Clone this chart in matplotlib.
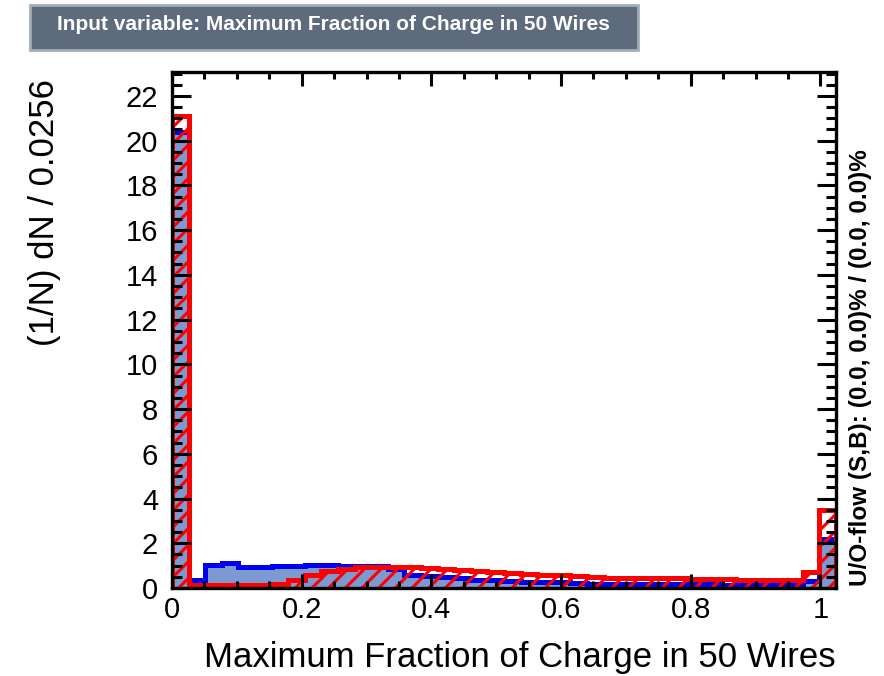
import matplotlib
matplotlib.use("Agg")
import matplotlib.pyplot as plt
from matplotlib.patches import Rectangle
from matplotlib.ticker import MultipleLocator
import numpy as np

plt.rcParams['font.family'] = ['Liberation Sans', 'DejaVu Sans']
plt.rcParams['hatch.linewidth'] = 2.2
plt.rcParams['hatch.color'] = 'red'

# 40 bins of width 0.0256 between 0 and 1.024
bin_width = 0.0256
edges = np.arange(41) * bin_width

signal = [20.4, 0.35, 1.05, 1.1, 0.95, 0.92, 0.97, 0.97, 1.02, 1.02,
          1.0, 1.0, 0.97, 0.85, 0.6, 0.55, 0.5, 0.45, 0.38, 0.35,
          0.3, 0.27, 0.25, 0.25, 0.22, 0.2, 0.2, 0.18, 0.18, 0.17,
          0.17, 0.16, 0.16, 0.15, 0.15, 0.15, 0.15, 0.15, 0.3, 2.2]
background = [21.1, 0.15, 0.15, 0.15, 0.15, 0.15, 0.2, 0.35, 0.6, 0.75,
              0.85, 0.92, 0.95, 0.95, 0.92, 0.9, 0.85, 0.8, 0.78, 0.72,
              0.65, 0.62, 0.6, 0.58, 0.52, 0.5, 0.45, 0.45, 0.45, 0.43,
              0.43, 0.4, 0.4, 0.4, 0.38, 0.38, 0.38, 0.38, 0.7, 3.5]

title = "Input variable: Maximum Fraction of Charge in 50 Wires"
xlabel = "Maximum Fraction of Charge in 50 Wires"
ylabel = "(1/N) dN / 0.0256"
oflow = "U/O-flow (S,B): (0.0, 0.0)% / (0.0, 0.0)%"

W, H = 884, 676
fig = plt.figure(figsize=(W / 100, H / 100), dpi=100)
ax = fig.add_axes([172 / W, 1 - 588 / H, 664 / W, 516 / H])

# signal: filled light blue with blue outline
ax.stairs(signal, edges, baseline=0, fill=True, facecolor='#7d99d1',
          edgecolor='none', linewidth=0)
ax.stairs(signal, edges, baseline=0, fill=False, color='#0000ee',
          linewidth=3.6)

# background: red hatched, red outline
ax.stairs(background, edges, baseline=0, fill=True, facecolor='none',
          edgecolor='red', hatch='//', linewidth=0)
ax.stairs(background, edges, baseline=0, fill=False, color='red',
          linewidth=3.6)

ax.set_xlim(0, 1.024)
ax.set_ylim(0, 23.07)

ax.xaxis.set_major_locator(MultipleLocator(0.2))
ax.xaxis.set_minor_locator(MultipleLocator(0.05))
ax.yaxis.set_major_locator(MultipleLocator(2))
ax.yaxis.set_minor_locator(MultipleLocator(0.5))
ax.set_xticks([0, 0.2, 0.4, 0.6, 0.8, 1.0])
ax.set_xticklabels(['0', '0.2', '0.4', '0.6', '0.8', '1'])

ax.tick_params(axis='both', which='both', direction='in', top=True,
               right=True, width=2.2, labelsize=21, colors='black')
ax.tick_params(axis='y', which='major', length=14, pad=10)
ax.tick_params(axis='y', which='minor', length=7)
ax.tick_params(axis='x', which='major', length=10, pad=6)
ax.tick_params(axis='x', which='minor', length=5)
for s in ax.spines.values():
    s.set_linewidth(2.4)

fig.text(45 / W, 1 - 79 / H, ylabel, rotation=90, ha='center', va='top',
         fontsize=25)
fig.text(836 / W, 1 - 657 / H, xlabel, ha='right', va='center',
         fontsize=25)
fig.text(861 / W, 1 - 586 / H, oflow, rotation=90, ha='center',
         va='bottom', fontsize=17.5, fontweight='bold')

# title box
box = Rectangle((30 / W, 1 - 50 / H), 608 / W, 45 / H,
                transform=fig.transFigure, facecolor='#5e6b7c',
                edgecolor='#a3adb8', linewidth=2)
fig.patches.append(box)
fig.text(57 / W, 1 - 25 / H, title, ha='left', va='center',
         fontsize=15, fontweight='bold', color='white')

fig.savefig('out.png', dpi=100)
